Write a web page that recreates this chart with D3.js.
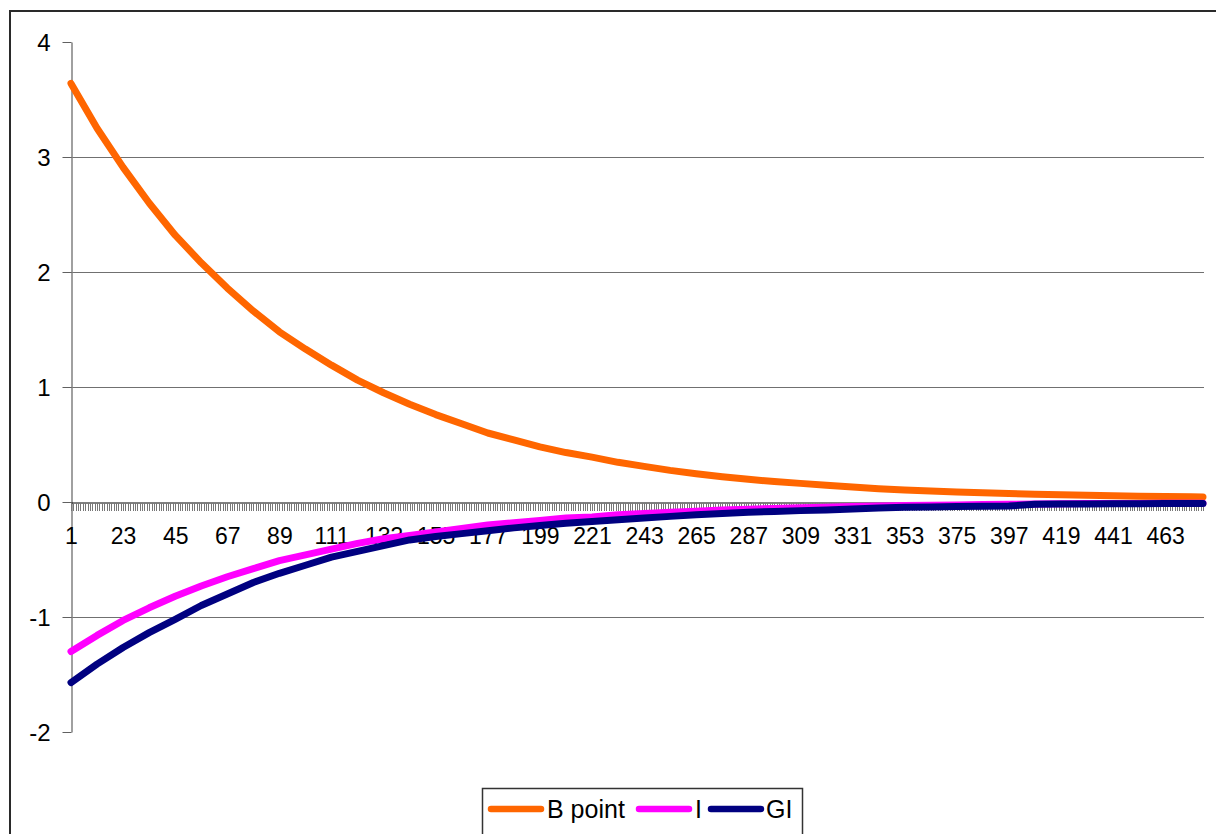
<!DOCTYPE html>
<html>
<head>
<meta charset="utf-8">
<script src="https://cdn.jsdelivr.net/npm/d3@7"></script>
<style>
  html, body { margin: 0; padding: 0; background: #fff; }
  svg { display: block; font-family: "Liberation Sans", Arial, sans-serif; }
</style>
</head>
<body>
<svg id="chart" width="1216" height="834"></svg>
<script>
// ---- data ----
const categoryCount = 479;
const categories = d3.range(1, categoryCount + 1);
const xTickLabels = [1, 23, 45, 67, 89, 111, 133, 155, 177, 199, 221, 243, 265, 287, 309, 331, 353, 375, 397, 419, 441, 463];
const yTickValues = [-2, -1, 0, 1, 2, 3, 4];
const gridValues = [-1, 1, 2, 3];

const sampleCats = [1, 12, 23, 34, 45, 56, 67, 78, 89, 100, 111, 122, 133, 144, 155, 166, 177, 188, 199, 210,
  221, 232, 243, 254, 265, 276, 287, 298, 309, 320, 331, 342, 353, 364, 375, 386, 397, 408, 419, 430,
  441, 452, 463, 474, 479];

const bPoint = [3.64, 3.25, 2.91, 2.60, 2.32, 2.08, 1.86, 1.66, 1.48, 1.33, 1.19, 1.06, 0.95, 0.85, 0.76, 0.68, 0.60, 0.54, 0.48, 0.43,
  0.39, 0.345, 0.31, 0.275, 0.246, 0.22, 0.197, 0.178, 0.162, 0.145, 0.13, 0.115, 0.105, 0.095, 0.088, 0.08, 0.073, 0.068, 0.063, 0.058,
  0.054, 0.051, 0.048, 0.045, 0.044];

const iSeries = [-1.30, -1.16, -1.03, -0.92, -0.82, -0.73, -0.65, -0.58, -0.51, -0.46, -0.41, -0.36, -0.32, -0.29, -0.26, -0.23, -0.20, -0.18, -0.16, -0.14,
  -0.13, -0.11, -0.10, -0.09, -0.08, -0.07, -0.063, -0.056, -0.05, -0.045, -0.04, -0.035, -0.031, -0.028, -0.025, -0.022, -0.02, -0.018, -0.016, -0.014,
  -0.013, -0.012, -0.011, -0.01, -0.01];

const giSeries = [-1.57, -1.41, -1.265, -1.136, -1.02, -0.90, -0.80, -0.70, -0.62, -0.55, -0.48, -0.43, -0.38, -0.33, -0.30, -0.275, -0.25, -0.225, -0.205, -0.185,
  -0.17, -0.155, -0.14, -0.125, -0.11, -0.10, -0.09, -0.082, -0.075, -0.07, -0.06, -0.052, -0.046, -0.043, -0.04, -0.037, -0.035, -0.02, -0.018, -0.017,
  -0.016, -0.015, -0.014, -0.013, -0.013];

const seriesNames = ["B point", "I", "GI"];
const seriesColors = ["#FF6600", "#FF00FF", "#000080"];
const seriesValues = [bPoint, iSeries, giSeries];

// ---- drawing ----
const svg = d3.select("#chart");
const FONT = "'Liberation Sans', Arial, sans-serif";

// outer chart border (extends past the picture on right and bottom)
svg.append("rect")
  .attr("x", 10).attr("y", 11)
  .attr("width", 1220).attr("height", 840)
  .attr("fill", "#fff")
  .attr("stroke", "#2a2a2a").attr("stroke-width", 2);

const x = d3.scalePoint().domain(categories).range([71, 1203]);
const y = d3.scaleLinear().domain([-2, 4]).range([732, 42]);

// gridlines
svg.append("g").selectAll("line").data(gridValues).join("line")
  .attr("x1", 71).attr("x2", 1204)
  .attr("y1", d => Math.round(y(d)) + 0.5).attr("y2", d => Math.round(y(d)) + 0.5)
  .attr("stroke", "#707070").attr("stroke-width", 1);

// y axis
const yAxis = svg.append("g")
  .attr("transform", "translate(71.5,0)")
  .call(d3.axisLeft(y).tickValues(yTickValues).tickSize(9).tickPadding(12).tickSizeOuter(0).tickFormat(d => String(d)));
yAxis.select(".domain").attr("stroke", "#808080").attr("stroke-width", 1.5);
yAxis.selectAll(".tick line").attr("stroke", "#606060");
yAxis.selectAll(".tick text")
  .attr("fill", "#000")
  .style("font-size", "24px")
  .style("font-family", FONT)
  .attr("dy", "0.36em");

// x axis at value 0
const xAxis = svg.append("g")
  .attr("transform", `translate(0,${Math.round(y(0)) + 0.5})`)
  .call(d3.axisBottom(x).tickValues(categories).tickSize(8).tickPadding(17).tickSizeOuter(0)
    .tickFormat(d => xTickLabels.includes(d) ? String(d) : ""));
xAxis.select(".domain").attr("stroke", "#000").attr("stroke-width", 1);
xAxis.selectAll(".tick line").attr("stroke", "#777").attr("stroke-width", 1).attr("shape-rendering", "crispEdges");
xAxis.selectAll(".tick text")
  .attr("fill", "#000")
  .style("font-size", "23px")
  .style("font-family", FONT);

// series lines
const line = d3.line()
  .x(d => x(d.cat))
  .y(d => y(d.v));

seriesValues.forEach((vals, i) => {
  const pts = sampleCats.map((c, j) => ({ cat: c, v: vals[j] }));
  svg.append("path")
    .datum(pts)
    .attr("d", line)
    .attr("fill", "none")
    .attr("stroke", seriesColors[i])
    .attr("stroke-width", 7)
    .attr("stroke-linejoin", "round")
    .attr("stroke-linecap", "round");
});

// legend
const legend = svg.append("g");
legend.append("rect")
  .attr("x", 482.5).attr("y", 788.5)
  .attr("width", 320).attr("height", 60)
  .attr("fill", "#fff").attr("stroke", "#333").attr("stroke-width", 1.5);

const legendItems = [
  { x1: 491, x2: 541, tx: 547 },
  { x1: 639, x2: 689, tx: 695 },
  { x1: 711, x2: 761, tx: 766 }
];
legendItems.forEach((it, i) => {
  legend.append("line")
    .attr("x1", it.x1).attr("x2", it.x2)
    .attr("y1", 809).attr("y2", 809)
    .attr("stroke", seriesColors[i]).attr("stroke-width", 6.5)
    .attr("stroke-linecap", "round");
  legend.append("text")
    .attr("x", it.tx).attr("y", 818)
    .attr("fill", "#000")
    .style("font-size", "25px")
    .style("font-family", FONT)
    .text(seriesNames[i]);
});
</script>
</body>
</html>
